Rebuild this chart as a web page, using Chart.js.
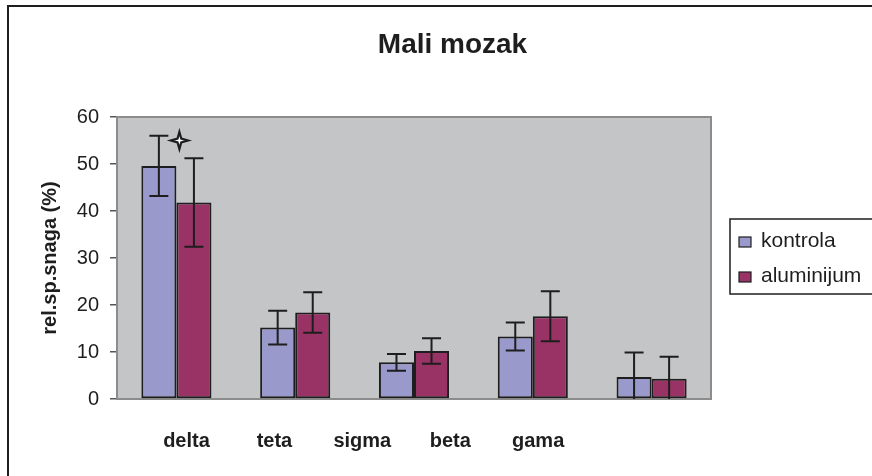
<!DOCTYPE html>
<html lang="sr">
<head>
<meta charset="UTF-8">
<title>Mali mozak</title>
<style>
  * { margin: 0; padding: 0; }
  body { background: #fff; width: 872px; height: 476px; overflow: hidden; }
  #wrap { position: relative; width: 872px; height: 476px; }
</style>
</head>
<body>
<div id="wrap"><canvas id="chart" width="872" height="476"></canvas></div>
<script src="https://cdn.jsdelivr.net/npm/chart.js@4.4.0/dist/chart.umd.min.js"></script>
<script>
// ── Data ─────────────────────────────────────────────────────────────────────
const categories = ["delta", "teta", "sigma", "beta", "gama"];
const kontrola = [49.6, 15.2, 7.8, 13.3, 4.7];
const kontrolaErr = [6.4, 3.6, 1.8, 3.0, 5.2];
const aluminijum = [41.8, 18.4, 10.2, 17.6, 4.3];
const aluminijumErr = [9.4, 4.3, 2.7, 5.3, 4.7];
const yMin = 0, yMax = 60, yStep = 10;
const chartTitle = "Mali mozak";
// significance marker: category index + value
const markerCategory = 0;
const markerValue = 55;

const FONT = "'Liberation Sans', Arial, sans-serif";
const INK = "#1e1e1e";

// ── Frame, title, plot area, legend, category labels ────────────────────────
const decorPlugin = {
  id: "decor",
  beforeDraw(chart) {
    const { ctx } = chart;
    ctx.save();
    ctx.fillStyle = "#fff";
    ctx.fillRect(0, 0, chart.width, chart.height);
    ctx.strokeStyle = INK;
    ctx.lineWidth = 2;
    ctx.strokeRect(8, 6, chart.width + 20, chart.height + 20);
    // title is centred on the whole frame, not on the plot
    ctx.font = "bold 28px " + FONT;
    ctx.fillStyle = INK;
    ctx.textAlign = "center";
    ctx.textBaseline = "alphabetic";
    ctx.fillText(chartTitle, (8 + chart.width + 25) / 2, 53);
    ctx.restore();
  },
  beforeDatasetsDraw(chart) {
    const { ctx, chartArea: a } = chart;
    ctx.save();
    ctx.fillStyle = "#c4c5c7";
    ctx.fillRect(a.left, a.top, a.right - a.left, a.bottom - a.top);
    ctx.strokeStyle = "#8c8c8c";
    ctx.lineWidth = 2;
    ctx.strokeRect(a.left, a.top, a.right - a.left, a.bottom - a.top);
    ctx.restore();
  },
  afterDraw(chart) {
    const { ctx, chartArea: a } = chart;
    ctx.save();
    // category labels (spaced tighter than the bars, as in the original)
    ctx.font = "bold 20px " + FONT;
    ctx.fillStyle = INK;
    ctx.textAlign = "center";
    ctx.textBaseline = "alphabetic";
    const w = a.right - a.left;
    categories.forEach((c, i) => {
      ctx.fillText(c, a.left + w * (0.117 + 0.148 * i), a.bottom + 48);
    });

    // legend box
    const lx = a.right + 19, ly = 219;
    ctx.strokeStyle = INK;
    ctx.lineWidth = 1.5;
    ctx.strokeRect(lx, ly, 200, 75);
    ctx.font = "21px " + FONT;
    ctx.textAlign = "left";
    chart.data.datasets.forEach((ds, i) => {
      const by = ly + 18 + i * 35;
      ctx.fillStyle = ds.backgroundColor;
      ctx.fillRect(lx + 9, by, 12, 10);
      ctx.strokeStyle = INK;
      ctx.lineWidth = 1.2;
      ctx.strokeRect(lx + 9, by, 12, 10);
      ctx.fillStyle = INK;
      ctx.fillText(ds.label, lx + 31, by + 10);
    });
    ctx.restore();
  }
};

// ── Error bars + significance star ──────────────────────────────────────────
const errorBarPlugin = {
  id: "errorBars",
  afterDatasetsDraw(chart) {
    const { ctx } = chart;
    const y = chart.scales.y, x = chart.scales.x;
    const errs = [kontrolaErr, aluminijumErr];
    ctx.save();
    ctx.strokeStyle = INK;
    ctx.lineWidth = 2;
    chart.data.datasets.forEach((ds, di) => {
      const meta = chart.getDatasetMeta(di);
      meta.data.forEach((bar, i) => {
        const v = ds.data[i], e = errs[di][i];
        const top = y.getPixelForValue(v + e);
        const bot = y.getPixelForValue(Math.max(yMin, v - e));
        ctx.beginPath();
        ctx.moveTo(bar.x, top); ctx.lineTo(bar.x, bot);
        ctx.moveTo(bar.x - 9.5, top); ctx.lineTo(bar.x + 9.5, top);
        if (v - e > yMin) { ctx.moveTo(bar.x - 9.5, bot); ctx.lineTo(bar.x + 9.5, bot); }
        ctx.stroke();
      });
    });

    // four-pointed star
    const cx = x.getPixelForValue(markerCategory) + 3;
    const cy = y.getPixelForValue(markerValue);
    const R = 8.5, r = 2.6;
    ctx.beginPath();
    for (let k = 0; k < 8; k++) {
      const ang = -Math.PI / 2 + k * Math.PI / 4;
      const rad = k % 2 === 0 ? R : r;
      const px = cx + rad * Math.cos(ang), py = cy + rad * Math.sin(ang);
      k === 0 ? ctx.moveTo(px, py) : ctx.lineTo(px, py);
    }
    ctx.closePath();
    ctx.fillStyle = "#fff";
    ctx.fill();
    ctx.lineWidth = 2.2;
    ctx.stroke();
    ctx.restore();
  }
};

new Chart(document.getElementById("chart"), {
  type: "bar",
  data: {
    labels: categories,
    datasets: [
      { label: "kontrola", data: kontrola, backgroundColor: "#9999cc", borderColor: INK, borderWidth: 2, borderSkipped: false },
      { label: "aluminijum", data: aluminijum, backgroundColor: "#993366", borderColor: INK, borderWidth: 2, borderSkipped: false }
    ]
  },
  options: {
    responsive: false,
    animation: false,
    layout: { padding: { left: 25, top: 117, right: 161, bottom: 0 } },
    datasets: { bar: { categoryPercentage: 0.59, barPercentage: 1.0 } },
    plugins: {
      legend: { display: false },
      tooltip: { enabled: false },
      title: { display: false }
    },
    scales: {
      x: {
        grid: { display: false },
        border: { display: false },
        ticks: { display: false },
        afterFit(scale) { scale.height = 77; }
      },
      y: {
        min: yMin,
        max: yMax,
        ticks: {
          stepSize: yStep,
          padding: 11,
          color: INK,
          font: { family: FONT, size: 20 }
        },
        grid: { drawOnChartArea: false, drawTicks: true, tickLength: 7, tickColor: "#555", lineWidth: 1.5 },
        border: { display: false },
        title: {
          display: true,
          text: "rel.sp.snaga (%)",
          color: INK,
          font: { family: FONT, size: 20, weight: "bold", lineHeight: 1.2 },
          padding: { top: 13, bottom: 0 }
        },
        afterFit(scale) { scale.width = 92; }
      }
    }
  },
  plugins: [decorPlugin, errorBarPlugin]
});
</script>
</body>
</html>
